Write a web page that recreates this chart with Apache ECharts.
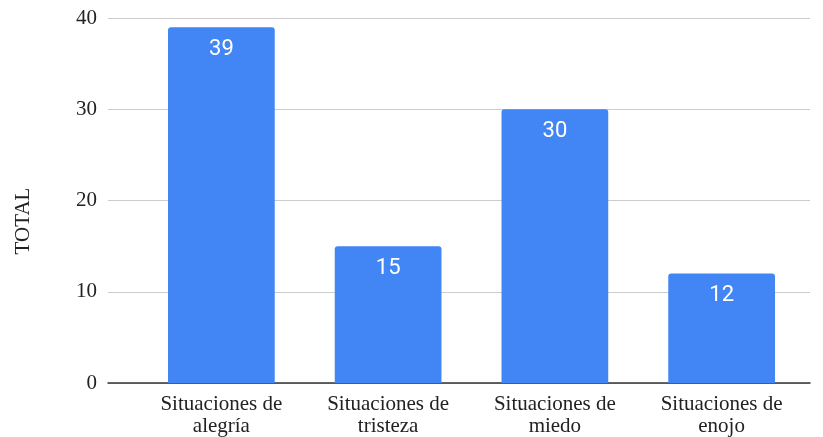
<!DOCTYPE html>
<html>
<head>
<meta charset="utf-8">
<script src="https://cdn.jsdelivr.net/npm/echarts@6/dist/echarts.min.js"></script>
<style>
  html, body { margin: 0; padding: 0; background: #fff; }
  #chart { width: 823px; height: 437px; }
</style>
</head>
<body>
<div id="chart"></div>
<script>
// Situations by emotion, totals
const categories = ['Situaciones de\nalegría', 'Situaciones de\ntristeza', 'Situaciones de\nmiedo', 'Situaciones de\nenojo'];
const totals = [39, 15, 30, 12];
const yTicks = [0, 10, 20, 30, 40];
const yAxisTitle = 'TOTAL';

const serif = '"Liberation Serif", "Times New Roman", serif';
const chart = echarts.init(document.getElementById('chart'), null, { renderer: 'canvas' });

chart.setOption({
  animation: false,
  backgroundColor: '#ffffff',
  grid: [
    // wide grid carrying gridlines, y labels and the baseline
    { left: 108, right: 13, top: 18, bottom: 54 },
    // inner grid holding the bars and category labels
    { left: 138, right: 18, top: 18, bottom: 54 }
  ],
  xAxis: [
    {
      gridIndex: 0, type: 'value', min: 0, max: 1,
      axisLine: { show: true, onZero: false, lineStyle: { color: '#333333', width: 1.5 } },
      axisTick: { show: false }, axisLabel: { show: false }, splitLine: { show: false }
    },
    {
      gridIndex: 1, type: 'category', data: categories,
      axisLine: { show: false }, axisTick: { show: false },
      axisLabel: {
        interval: 0, margin: 10, color: '#222222',
        fontFamily: serif, fontSize: 21, lineHeight: 22, align: 'center'
      }
    }
  ],
  yAxis: [
    {
      gridIndex: 0, type: 'value', min: yTicks[0], max: yTicks[yTicks.length - 1], interval: 10,
      axisLine: { show: false }, axisTick: { show: false },
      axisLabel: { color: '#222222', fontFamily: serif, fontSize: 21, margin: 11 },
      splitLine: { lineStyle: { color: '#cccccc', width: 1 } }
    },
    {
      gridIndex: 1, type: 'value', min: yTicks[0], max: yTicks[yTicks.length - 1], interval: 10,
      show: false, splitLine: { show: false }
    }
  ],
  graphic: [{
    type: 'text',
    rotation: Math.PI / 2,
    x: 23, y: 221,
    style: { text: yAxisTitle, fill: '#222222', font: '21px ' + serif, textAlign: 'center', textVerticalAlign: 'middle' }
  }],
  series: [{
    type: 'bar', xAxisIndex: 1, yAxisIndex: 1,
    data: totals,
    barWidth: '64%',
    itemStyle: { color: '#4285F4', borderRadius: [3, 3, 0, 0] },
    label: {
      show: true, position: 'insideTop', distance: 11,
      color: '#ffffff', fontFamily: 'Roboto, "Noto Sans", sans-serif', fontSize: 22
    }
  }]
});
</script>
</body>
</html>
